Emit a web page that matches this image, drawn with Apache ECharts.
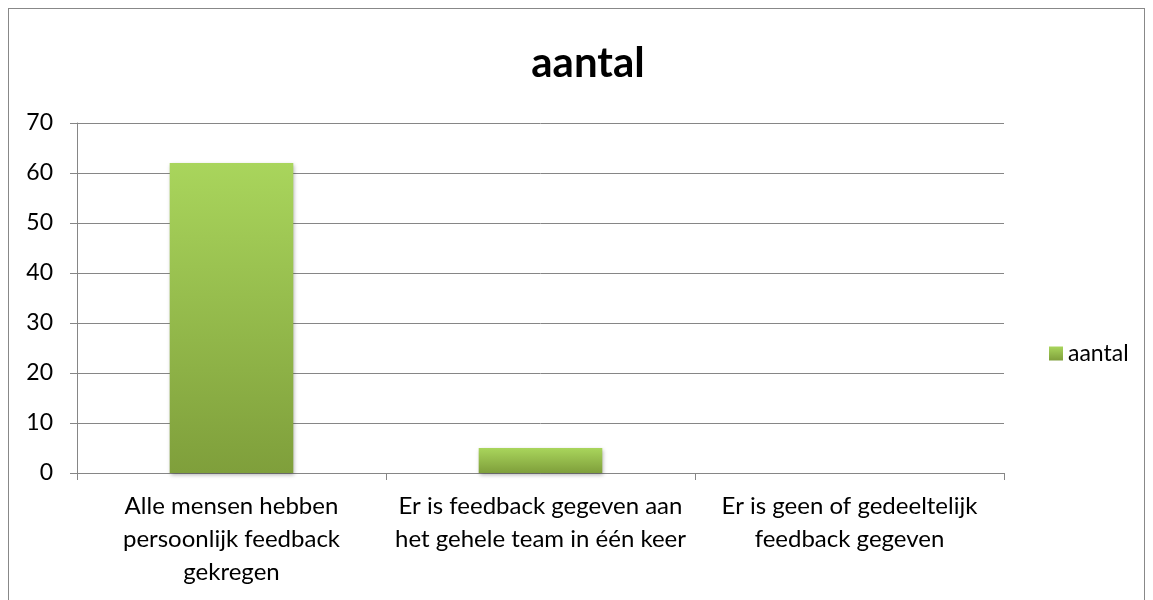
<!DOCTYPE html>
<html>
<head>
<meta charset="utf-8">
<script src="https://cdn.jsdelivr.net/npm/echarts@6/dist/echarts.min.js"></script>
<style>
  html, body { margin: 0; padding: 0; background: #fff; }
  #frame { position: absolute; left: 8px; top: 8px; width: 1137px; height: 600px; border: 1px solid #888; box-sizing: border-box; }
  #chart { position: absolute; left: 0; top: 0; width: 1153px; height: 600px; }
</style>
</head>
<body>
<div id="frame"></div>
<div id="chart"></div>
<script>
var categories = ['Alle mensen hebben\npersoonlijk feedback\ngekregen', 'Er is feedback gegeven aan\nhet gehele team in één keer', 'Er is geen of gedeeltelijk\nfeedback gegeven'];
var aantal = [62, 5, 0];

var myChart = echarts.init(document.getElementById('chart'));
var font = 'Lato, "Open Sans", sans-serif';

var option = {
    animation: false,
    title: {
        text: 'aantal',
        left: 583,
        textAlign: 'center',
        top: 37,
        textStyle: { fontFamily: font, fontSize: 42, fontWeight: 'bold', color: '#000' }
    },
    legend: {
        left: 1044,
        top: 337,
        itemWidth: 14,
        itemHeight: 14,
        icon: 'rect',
        textStyle: { fontFamily: font, fontSize: 23, color: '#000' },
        data: ['aantal']
    },
    grid: { left: 77, right: 149, top: 123, bottom: 127 },
    xAxis: {
        type: 'category',
        data: categories,
        axisLine: { lineStyle: { color: '#868686' } },
        axisTick: { show: true, length: 7, lineStyle: { color: '#868686' } },
        axisLabel: { interval: 0, hideOverlap: false, fontFamily: font, fontSize: 24, color: '#000', lineHeight: 33, margin: 17 }
    },
    yAxis: {
        type: 'value',
        min: 0, max: 70, interval: 10,
        axisLine: { show: true, lineStyle: { color: '#868686' } },
        axisTick: { show: true, length: 7, lineStyle: { color: '#868686' } },
        axisLabel: { fontFamily: font, fontSize: 23, color: '#000', margin: 24 },
        splitLine: { lineStyle: { color: '#868686' } }
    },
    series: [{
        name: 'aantal',
        type: 'bar',
        data: aantal,
        barWidth: '40%',
        itemStyle: {
            color: new echarts.graphic.LinearGradient(0, 0, 0, 1, [
                { offset: 0, color: '#a9d55c' },
                { offset: 1, color: '#7f9f3b' }
            ]),
            shadowColor: 'rgba(0,0,0,0.3)',
            shadowBlur: 4,
            shadowOffsetX: 1,
            shadowOffsetY: 2
        }
    }]
};
myChart.setOption(option);
</script>
</body>
</html>
